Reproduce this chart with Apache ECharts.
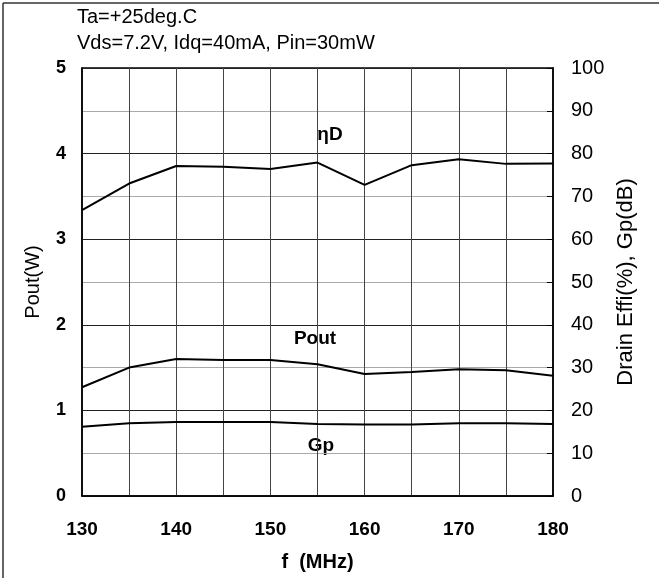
<!DOCTYPE html>
<html><head><meta charset="utf-8">
<script src="https://cdn.jsdelivr.net/npm/echarts@6/dist/echarts.min.js"></script>
<style>html,body{margin:0;padding:0;background:#fff}#c{width:659px;height:578px}</style>
</head><body><div id="c"></div>
<script>
var freq = [130,135,140,145,150,155,160,165,170,175,180];
var etaD = [66.8,73.0,77.1,76.9,76.4,77.9,72.7,77.3,78.7,77.6,77.7];
var pout = [1.27,1.50,1.60,1.59,1.59,1.54,1.425,1.45,1.48,1.47,1.405];
var gp = [16.2,17.0,17.3,17.3,17.3,16.8,16.7,16.7,17.0,17.0,16.8];
var xTicks = [130,140,150,160,170,180];
var FF = '"Liberation Sans", Arial, sans-serif';
function pts(ys){return freq.map(function(f,i){return [f,ys[i]];});}
var chart = echarts.init(document.getElementById('c'));
chart.setOption({
  animation:false,
  textStyle:{fontFamily:FF},
  grid:{left:82,right:106,top:68,bottom:82,show:true,borderColor:'#000',borderWidth:1.5},
  xAxis:{type:'value',min:130,max:180,interval:5,
    axisLine:{lineStyle:{color:'#000',width:1.5}},axisTick:{show:false},
    axisLabel:{margin:24,fontSize:19,fontWeight:'bold',color:'#000',fontFamily:FF,
      formatter:function(v){return xTicks.indexOf(v)>=0?String(v):'';}},
    splitLine:{show:true,lineStyle:{color:'#444',width:1}},
    name:'f  (MHz)',nameLocation:'middle',nameGap:56,
    nameTextStyle:{fontSize:20,fontWeight:'bold',color:'#000',fontFamily:FF}},
  yAxis:[{type:'value',min:0,max:5,interval:0.5,
    axisLine:{show:true,lineStyle:{color:'#000',width:1.5}},axisTick:{show:false},
    axisLabel:{margin:16,fontSize:18,fontWeight:'bold',color:'#000',fontFamily:FF,
      formatter:function(v){return Math.abs(v-Math.round(v))<1e-6?String(Math.round(v)):'';}},
    splitLine:{show:true,lineStyle:{color:['#222','#aaa'],width:1}},
    name:'Pout(W)',nameLocation:'middle',nameGap:39,
    nameTextStyle:{fontSize:20,color:'#000',fontFamily:FF}},
   {type:'value',min:0,max:100,interval:10,position:'right',
    axisLine:{show:true,lineStyle:{color:'#000',width:1.5}},
    axisTick:{show:true,inside:true,length:6,lineStyle:{color:'#000'}},
    axisLabel:{margin:18,fontSize:20,color:'#000',fontFamily:FF},
    splitLine:{show:false},
    name:'Drain Effi(%), Gp(dB)',nameLocation:'middle',nameGap:56,nameRotate:90,
    nameTextStyle:{fontSize:22,color:'#000',fontFamily:FF}}],
  series:[
    {type:'line',yAxisIndex:1,data:pts(etaD),showSymbol:false,lineStyle:{color:'#000',width:2}},
    {type:'line',yAxisIndex:0,data:pts(pout),showSymbol:false,lineStyle:{color:'#000',width:2}},
    {type:'line',yAxisIndex:1,data:pts(gp),showSymbol:false,lineStyle:{color:'#000',width:2}}
  ],
  graphic:[
    {type:'line',shape:{x1:3,y1:3,x2:659,y2:3},style:{stroke:'#333',lineWidth:1.5}},
    {type:'line',shape:{x1:3,y1:3,x2:3,y2:578},style:{stroke:'#333',lineWidth:1.5}},
    {type:'text',left:77,top:7,style:{text:'Ta=+25deg.C',font:'20px '+FF,fill:'#000'}},
    {type:'text',left:77,top:33,style:{text:'Vds=7.2V, Idq=40mA, Pin=30mW',font:'20px '+FF,fill:'#000'}},
    {type:'text',x:330,y:135,style:{text:'ηD',font:'bold 19px '+FF,fill:'#000',align:'center',verticalAlign:'middle'}},
    {type:'text',x:315,y:339,style:{text:'Pout',font:'bold 19px '+FF,fill:'#000',align:'center',verticalAlign:'middle'}},
    {type:'text',x:321,y:446,style:{text:'Gp',font:'bold 19px '+FF,fill:'#000',align:'center',verticalAlign:'middle'}}
  ]
});
</script></body></html>
